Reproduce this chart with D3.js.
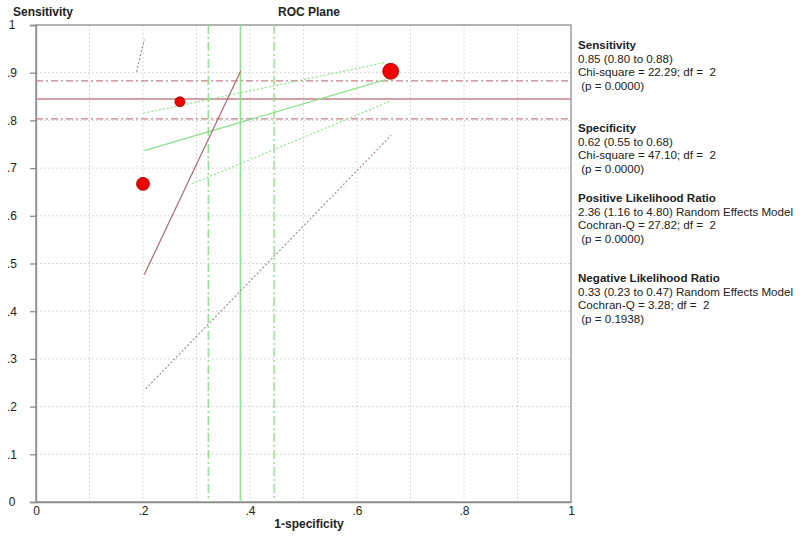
<!DOCTYPE html>
<html><head><meta charset="utf-8">
<script src="https://cdn.jsdelivr.net/npm/d3@7"></script>
<style>
body{margin:0;background:#fff;}
text{font-family:Arial,"Liberation Sans",sans-serif;}
</style></head>
<body><svg id="c" width="800" height="537"></svg>
<script>
// ---- data ----
const xTickValues = [0, 0.2, 0.4, 0.6, 0.8, 1];
const xTickLabels = ["0", ".2", ".4", ".6", ".8", "1"];
const yTickValues = [0, 0.1, 0.2, 0.3, 0.4, 0.5, 0.6, 0.7, 0.8, 0.9, 1];
const yTickLabels = ["0", ".1", ".2", ".3", ".4", ".5", ".6", ".7", ".8", ".9", "1"];
const gridValues = [0.1, 0.2, 0.3, 0.4, 0.5, 0.6, 0.7, 0.8, 0.9];

const studyFpr = [0.200, 0.269, 0.663];
const studySens = [0.667, 0.839, 0.903];
const studyWeight = [42, 25, 64];

const pooledSens = 0.845, pooledSensLo = 0.803, pooledSensHi = 0.883;
const pooledFpr = 0.382, pooledFprLo = 0.322, pooledFprHi = 0.445;

// LR lines: [x1, y1, x2, y2]
const lrPosLine  = [0.2025, 0.7365, 0.652, 0.885];
const lrPosUpper = [0.2006, 0.815, 0.655, 0.922];
const lrPosLower = [0.291, 0.667, 0.664, 0.841];
const lrNegLine  = [0.2025, 0.477, 0.3826, 0.9036];
const lrNegUpper = [0.188, 0.902, 0.2025, 0.970];
const lrNegLower = [0.205, 0.237, 0.664, 0.769];

const panelBlocks = [
  {title: "Sensitivity", lines: ["0.85 (0.80 to 0.88)", "Chi-square = 22.29; df =  2", " (p = 0.0000)"]},
  {title: "Specificity", lines: ["0.62 (0.55 to 0.68)", "Chi-square = 47.10; df =  2", " (p = 0.0000)"]},
  {title: "Positive Likelihood Ratio", lines: ["2.36 (1.16 to 4.80) Random Effects Model", "Cochran-Q = 27.82; df =  2", " (p = 0.0000)"]},
  {title: "Negative Likelihood Ratio", lines: ["0.33 (0.23 to 0.47) Random Effects Model", "Cochran-Q = 3.28; df =  2", " (p = 0.1938)"]}
];

// ---- drawing ----
const svg = d3.select("#c");
const L = 36, R = 571, T = 25, B = 502;
const x = d3.scaleLinear().domain([0, 1]).range([L, R]);
const y = d3.scaleLinear().domain([0, 1]).range([B, T]);
const rScale = d3.scaleSqrt().domain([0, 64]).range([0, 8]);

const RED = "#c48088", GREEN = "#8fe08f";

// grid
const g = svg.append("g");
g.selectAll(".gx").data(gridValues).enter().append("line")
  .attr("x1", d => x(d)).attr("x2", d => x(d)).attr("y1", T).attr("y2", B)
  .attr("stroke", "#cccccc").attr("stroke-dasharray", "1.5,2.5");
g.selectAll(".gy").data(gridValues).enter().append("line")
  .attr("y1", d => y(d)).attr("y2", d => y(d)).attr("x1", L).attr("x2", R)
  .attr("stroke", "#cccccc").attr("stroke-dasharray", "1.5,2.5");

// frame
svg.append("rect").attr("x", L).attr("y", T).attr("width", R - L).attr("height", B - T)
  .attr("fill", "none").attr("stroke", "#8c8c8c").attr("stroke-width", 1.3);

// axes
const yAxis = d3.axisLeft(y).tickValues(yTickValues).tickSize(6)
  .tickFormat((d, i) => yTickLabels[i]);
const ya = svg.append("g").attr("transform", `translate(${L},0)`).call(yAxis);
ya.select(".domain").attr("stroke", "#8c8c8c").attr("stroke-width", 1.3);
ya.selectAll(".tick line").attr("stroke", "#8c8c8c").attr("stroke-width", 1.3);
ya.selectAll(".tick text").attr("x", -24).attr("text-anchor", "middle")
  .attr("font-size", 12).attr("fill", "#222").attr("font-family", "Arial, 'Liberation Sans', sans-serif");

const xAxis = d3.axisBottom(x).tickValues(xTickValues).tickSize(0)
  .tickFormat((d, i) => xTickLabels[i]);
const xa = svg.append("g").attr("transform", `translate(0,${B})`).call(xAxis);
xa.select(".domain").attr("stroke", "#8c8c8c").attr("stroke-width", 1.3);
xa.selectAll(".tick text").attr("y", 4).attr("font-size", 12).attr("fill", "#222")
  .attr("font-family", "Arial, 'Liberation Sans', sans-serif");

// pooled sensitivity lines
function hline(v, dash, w) {
  svg.append("line").attr("x1", L).attr("x2", R).attr("y1", y(v)).attr("y2", y(v))
    .attr("stroke", RED).attr("stroke-width", w).attr("stroke-dasharray", dash);
}
hline(pooledSens, null, 1.4);
hline(pooledSensLo, "7,3,2,3", 1.3);
hline(pooledSensHi, "7,3,2,3", 1.3);

function vline(v, dash, w) {
  svg.append("line").attr("y1", T).attr("y2", B).attr("x1", x(v)).attr("x2", x(v))
    .attr("stroke", GREEN).attr("stroke-width", w).attr("stroke-dasharray", dash);
}
vline(pooledFpr, null, 1.5);
vline(pooledFprLo, "9,3,2,3", 1.4);
vline(pooledFprHi, "9,3,2,3", 1.4);

function seg(s, color, dash, w) {
  svg.append("line").attr("x1", x(s[0])).attr("y1", y(s[1])).attr("x2", x(s[2])).attr("y2", y(s[3]))
    .attr("stroke", color).attr("stroke-width", w).attr("stroke-dasharray", dash);
}
seg(lrPosLine, GREEN, null, 1.4);
seg(lrPosUpper, GREEN, "2,2", 1.2);
seg(lrPosLower, GREEN, "2,2", 1.2);
seg(lrNegLine, "#b06870", null, 1.2);
seg(lrNegUpper, "#b08890", "2,2", 1.2);
seg(lrNegLower, "#a89098", "2,2", 1.2);

// study points
svg.selectAll(".pt").data(studyFpr).enter().append("circle")
  .attr("cx", d => x(d)).attr("cy", (d, i) => y(studySens[i]))
  .attr("r", (d, i) => rScale(studyWeight[i]))
  .attr("fill", "#f00000").attr("stroke", "#a00000").attr("stroke-width", 0.8);

// titles
svg.append("text").attr("x", 13).attr("y", 16).attr("font-size", 12).attr("font-weight", "bold")
  .attr("fill", "#222").text("Sensitivity");
svg.append("text").attr("x", 309).attr("y", 16).attr("font-size", 12).attr("font-weight", "bold")
  .attr("text-anchor", "middle").attr("fill", "#222").text("ROC Plane");
svg.append("text").attr("x", 309).attr("y", 528).attr("font-size", 12).attr("font-weight", "bold")
  .attr("text-anchor", "middle").attr("fill", "#222").text("1-specificity");

// right panel
const blockTops = [49, 132, 202, 282];
const lh = 13.5;
panelBlocks.forEach((b, i) => {
  const t = svg.append("text").attr("x", 578).attr("y", blockTops[i]).attr("font-size", 11.6)
    .attr("fill", "#222").attr("xml:space", "preserve");
  t.append("tspan").attr("x", 578).attr("font-weight", "bold").text(b.title);
  b.lines.forEach((ln, j) => {
    t.append("tspan").attr("x", 578).attr("dy", lh).text(ln);
  });
});
</script></body></html>
